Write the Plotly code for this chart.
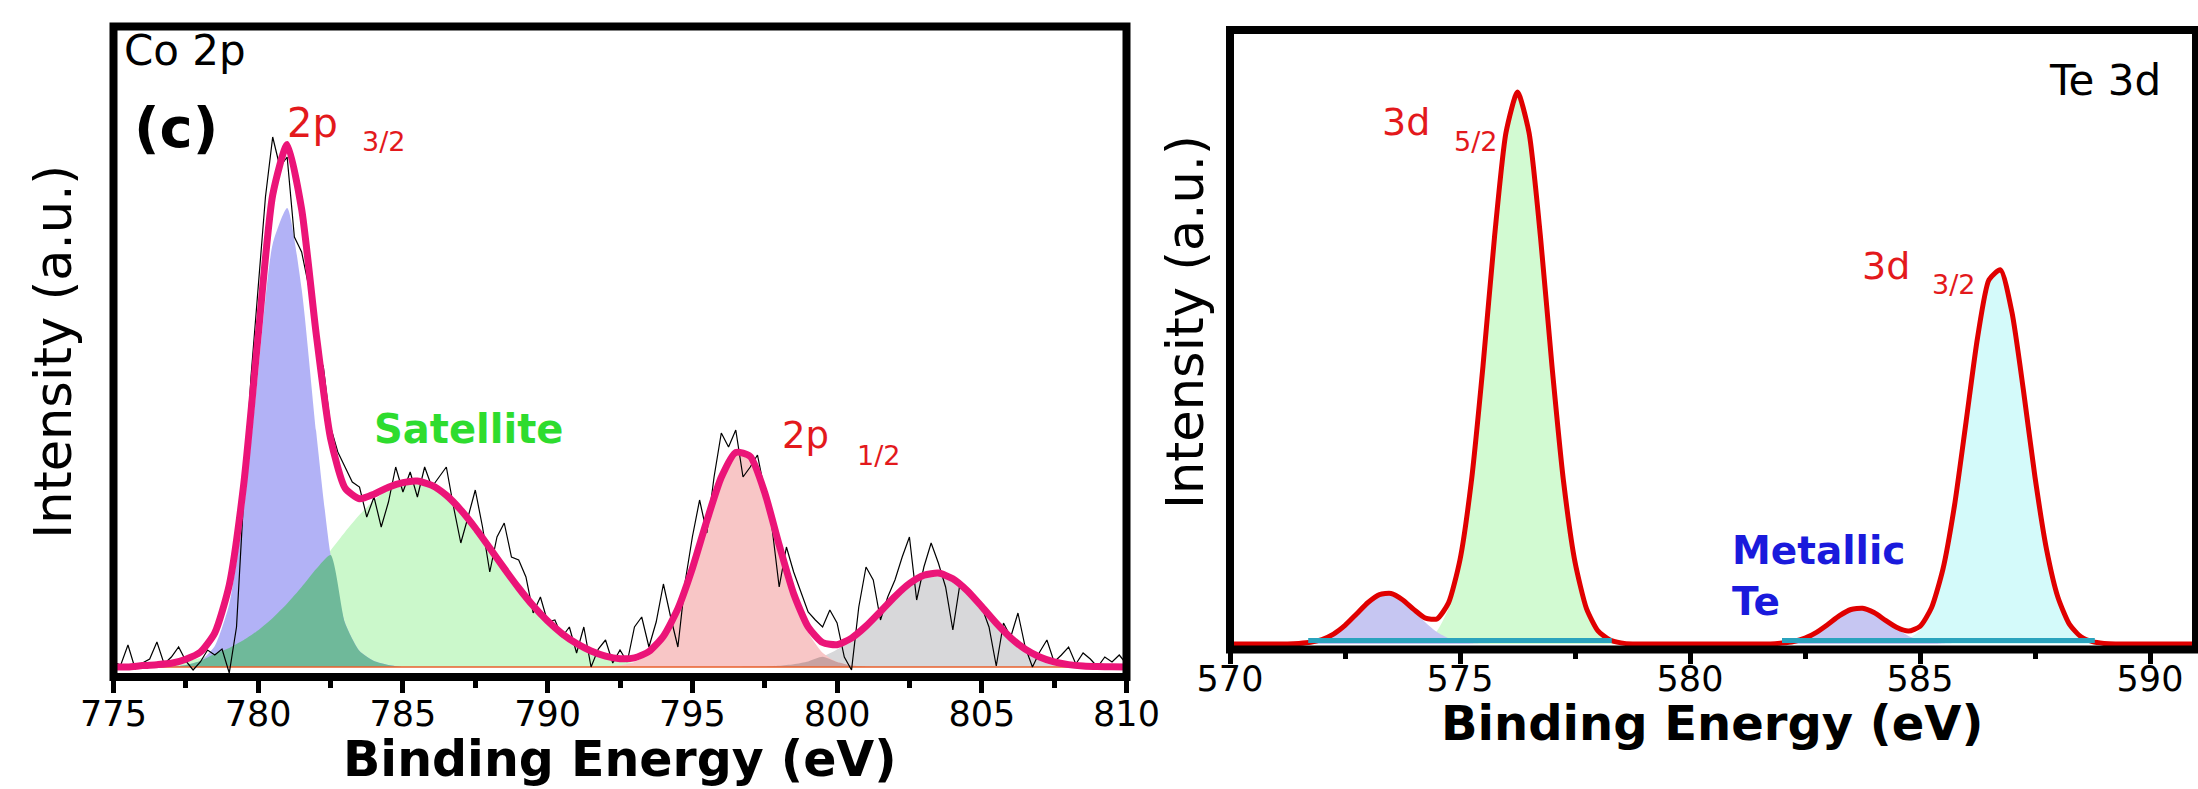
import numpy as np
import pandas as pd
import plotly.graph_objects as go

W, H = 2198, 789

# ------------------------------------------------------------------
# Co 2p panel (binding energy in eV, intensity in a.u.)
# fitted components, sampled every 0.5 eV from their start energy
# ------------------------------------------------------------------
co_step = 0.5
co_2p32_start = 777.5
co_2p32 = [2, 6, 21, 63, 156, 295, 423, 459, 378, 236, 112, 44, 16, 6, 2, 0]
co_sat_start = 776.0
co_sat = [1.4, 2.3, 3.7, 5.8, 8.9, 13.2, 19.1, 26.9, 36.8, 49.0,
          63.4, 79.9, 97.9, 116.6, 135.0, 152.2, 166.8, 177.8, 184.4, 185.9,
          181.6, 171.7, 157.0, 139.0, 119.0, 98.6, 79.0, 61.2, 45.9, 33.3,
          23.4, 15.9, 10.4, 6.6, 4.1, 2.4, 1.4, 0.8, 0.4]
co_2p12_start = 791.0
co_2p12 = [0, 0.1, 0.5, 1.7, 5.1, 13.1, 29.4, 57.5, 98.2, 146.2, 189.7, 214.6,
           210.3, 173.8, 120.7, 70.5, 34.5, 14.3, 4.9, 1.4, 0.3, 0, 0]
co_sat2_start = 797.0
co_sat2 = [0.2, 0.6, 1.3, 2.8, 5.6, 10.2, 17.4, 27.5, 40.5, 55.5, 70.6, 83.5,
           91.8, 93.9, 88.3, 76.3, 60.4, 43.8, 29.2, 17.8, 10.0, 5.1, 2.4, 1.0,
           0.4, 0.2, 0]

# measured (raw) spectrum, every 0.25 eV from 775 to 810
co_raw_start, co_raw_step = 775.0, 0.25
co_raw = [5, 2, 22, -2, 4, 8, 25, 3, 10, 20,
          6, -3, 5, 17, 12, 18, -6, 40, 170, 290,
          380, 470, 530, 500, 510, 430, 415, 380, 320, 300,
          240, 215, 200, 185, 180, 150, 170, 140, 165, 200,
          175, 195, 170, 200, 180, 190, 200, 160, 124, 150,
          177, 140, 95, 130, 144, 110, 107, 90, 54, 70,
          45, 47, 30, 40, 14, 40, 0, 18, 27, 4,
          17, 5, 40, 50, 20, 45, 83, 50, 20, 85,
          130, 167, 134, 190, 234, 220, 237, 190, 200, 212,
          177, 140, 80, 120, 95, 76, 55, 47, 40, 57,
          44, 10, -3, 60, 100, 87, 47, 70, 87, 110,
          130, 67, 100, 124, 104, 80, 37, 84, 74, 70,
          60, 40, 1, 44, 30, 54, 20, 0, 15, 27,
          5, 12, 20, 3, 14, 8, 0, 10, 5, 12, 3]
co_xrange = [775, 810]
co_ticks = [775, 780, 785, 790, 795, 800, 805, 810]

# ------------------------------------------------------------------
# Te 3d panel, components sampled every 0.25 eV
# ------------------------------------------------------------------
te_step = 0.25
te_met1_start = 571.5
te_met1 = [0.6, 1.8, 4.5, 9.9, 18.6, 30.0, 41.5, 49.4, 50.5, 44.3, 33.3, 21.6,
           12.0, 5.7, 2.3, 0.8, 0.2]
te_d52_start = 574.0
te_d52 = [1.1, 4.2, 13.1, 35.4, 82.0, 162.9, 277.8, 406.8, 511.4, 552, 511.4,
          406.8, 277.8, 162.9, 82.0, 35.4, 13.1, 4.2, 1.1]
te_met2_start = 582.0
te_met2 = [0.9, 2.5, 5.9, 11.7, 19.7, 28.3, 34.5, 35.8, 31.5, 23.6, 15.0, 8.1,
           3.7, 1.5, 0.5]
te_d32_start = 584.5
te_d32 = [1.4, 4.8, 13.9, 34.7, 74.6, 138.5, 221.7, 306.0, 364.3, 374.2, 331.4,
          253.2, 166.8, 94.8, 46.5, 19.6, 7.2, 2.3, 0.6]
te_bg_x = [571.7, 578.3, None, 582.0, 588.8]
te_bg_y = [3.5, 3.5, None, 3.5, 3.5]
te_xrange = [570, 591]
te_ticks = [570, 575, 580, 585, 590]


def full(grid, start, step, vals):
    s = pd.Series(0.0, index=np.round(grid, 3))
    idx = np.round(start + step * np.arange(len(vals)), 3)
    s.loc[idx] = vals
    return s.values


co_grid = np.arange(co_xrange[0], co_xrange[1] + 1e-9, co_step)
c_blue = full(co_grid, co_2p32_start, co_step, co_2p32)
c_green = full(co_grid, co_sat_start, co_step, co_sat)
c_pink = full(co_grid, co_2p12_start, co_step, co_2p12)
c_gray = full(co_grid, co_sat2_start, co_step, co_sat2)
c_env = c_blue + c_green + c_pink + c_gray
c_ov1 = np.minimum(c_blue, c_green)
c_ov2 = np.minimum(c_pink, c_gray)
co_raw_x = co_raw_start + co_raw_step * np.arange(len(co_raw))

te_grid = np.arange(te_xrange[0], te_xrange[1] + 1e-9, te_step)
t_m1 = full(te_grid, te_met1_start, te_step, te_met1)
t_52 = full(te_grid, te_d52_start, te_step, te_d52)
t_m2 = full(te_grid, te_met2_start, te_step, te_met2)
t_32 = full(te_grid, te_d32_start, te_step, te_d32)
t_env = t_m1 + t_52 + t_m2 + t_32

fig = go.Figure()


def fill(x, y, color, xa, ya):
    fig.add_trace(go.Scatter(x=x, y=y, mode="lines", fill="tozeroy",
                             fillcolor=color, line=dict(width=0, shape="spline", smoothing=0.6),
                             xaxis=xa, yaxis=ya, hoverinfo="skip"))


# Co 2p
fill(co_grid, c_green, "#cbf8cb", "x", "y")
fill(co_grid, c_blue, "#b2b2f6", "x", "y")
fill(co_grid, c_ov1, "#6fb99a", "x", "y")
fill(co_grid, c_gray, "#d8d8da", "x", "y")
fill(co_grid, c_pink, "#f8c6c6", "x", "y")
fill(co_grid, c_ov2, "#c8a2a2", "x", "y")
fig.add_trace(go.Scatter(x=co_xrange, y=[0, 0], mode="lines",
                         line=dict(color="#e8602c", width=1.5), xaxis="x", yaxis="y"))
fig.add_trace(go.Scatter(x=co_raw_x, y=co_raw, mode="lines",
                         line=dict(color="black", width=1.2), xaxis="x", yaxis="y"))
fig.add_trace(go.Scatter(x=co_grid, y=c_env, mode="lines",
                         line=dict(color="#eb1478", width=7, shape="spline", smoothing=0.6),
                         xaxis="x", yaxis="y"))

# Te 3d
fill(te_grid, t_52, "#d2fad2", "x2", "y2")
fill(te_grid, t_32, "#d4fafa", "x2", "y2")
fill(te_grid, t_m1, "#c6c6f2", "x2", "y2")
fill(te_grid, t_m2, "#c6c6f2", "x2", "y2")
fig.add_trace(go.Scatter(x=te_grid, y=t_env, mode="lines",
                         line=dict(color="#e00000", width=5, shape="spline", smoothing=0.6),
                         xaxis="x2", yaxis="y2"))
fig.add_trace(go.Scatter(x=te_bg_x, y=te_bg_y, mode="lines",
                         line=dict(color="#2aa3bd", width=5), xaxis="x2", yaxis="y2"))


def px_x(a, b):
    return [a / W, b / W]


def px_y(top, bottom):
    return [(H - bottom) / H, (H - top) / H]


tickfont = dict(family="DejaVu Sans", size=35, color="black")
minor_l = dict(ticks="outside", dtick=2.5, ticklen=10, tickwidth=5, tickcolor="black", showgrid=False)
minor_r = dict(ticks="outside", dtick=2.5, ticklen=8.5, tickwidth=5, tickcolor="black", showgrid=False)

fig.update_layout(
    width=W, height=H, margin=dict(l=0, r=0, t=0, b=0, autoexpand=False),
    paper_bgcolor="white", plot_bgcolor="white", showlegend=False,
    xaxis=dict(domain=px_x(113.5, 1126.5), range=co_xrange, anchor="y", automargin=False,
               tickmode="array", tickvals=co_ticks, ticks="outside", ticklen=15,
               tickwidth=5, tickcolor="black", tickfont=tickfont, minor=minor_l,
               ticklabelstandoff=-9,
               showgrid=False, zeroline=False, showline=False),
    yaxis=dict(domain=px_y(26.5, 677), range=[-10, 640.5], anchor="x", automargin=False,
               showticklabels=False, ticks="", showgrid=False, zeroline=False, showline=False,
               title=dict(text="Intensity (a.u.)", standoff=24,
                          font=dict(family="DejaVu Sans", size=51, color="black"))),
    xaxis2=dict(domain=px_x(1230, 2196), range=te_xrange, anchor="y2", automargin=False,
                tickmode="array", tickvals=te_ticks, ticks="outside", ticklen=13.5,
                tickwidth=5, tickcolor="black", tickfont=tickfont, minor=minor_r,
                ticklabelstandoff=-15,
                showgrid=False, zeroline=False, showline=False),
    yaxis2=dict(domain=px_y(30, 649.5), range=[-5.5, 614], anchor="x2", automargin=False,
                showticklabels=False, ticks="", showgrid=False, zeroline=False, showline=False),
)

# axis titles placed as paper annotations (positions of the reference)
fig.add_annotation(text="Binding Energy (eV)", x=620 / W, y=(H - 759) / H, xref="paper", yref="paper",
                   showarrow=False, xanchor="center", yanchor="middle",
                   font=dict(family="DejaVu Sans", size=49, color="black", weight="bold"))
fig.add_annotation(text="Binding Energy (eV)", x=1712 / W, y=(H - 723) / H, xref="paper", yref="paper",
                   showarrow=False, xanchor="center", yanchor="middle",
                   font=dict(family="DejaVu Sans", size=48, color="black", weight="bold"))
fig.add_annotation(text="Intensity (a.u.)", x=1185 / W, y=(H - 322) / H, xref="paper", yref="paper",
                   textangle=-90, showarrow=False, xanchor="center", yanchor="middle",
                   font=dict(family="DejaVu Sans", size=51, color="black"))

# frames
for xr, yr in (("x domain", "y domain"), ("x2 domain", "y2 domain")):
    fig.add_shape(type="rect", xref=xr, yref=yr, x0=0, x1=1, y0=0, y1=1,
                  line=dict(color="black", width=8), layer="above")

red = "#e3191c"


def ann(text, x, y, xa, ya, size, color, bold=False, xanchor="left"):
    f = dict(family="DejaVu Sans", size=size, color=color)
    if bold:
        f["weight"] = "bold"
    fig.add_annotation(text=text, x=x, y=y, xref=xa, yref=ya, showarrow=False,
                       xanchor=xanchor, yanchor="middle", align="left", font=f)


# Co 2p labels
ann("Co 2p", 775.29, 616.5, "x", "y", 42, "black")
ann("(c)", 775.64, 539.5, "x", "y", 56, "black", bold=True)
ann("2p", 780.93, 544.5, "x", "y", 40, red)
ann("3/2", 783.52, 526, "x", "y", 27, red)
ann("Satellite", 783.93, 238.5, "x", "y", 40, "#2edc2e", bold=True)
ann("2p", 798.03, 232, "x", "y", 37, red)
ann("1/2", 800.62, 212, "x", "y", 27, red)

# Te 3d labels
ann("Te 3d", 590.28, 564, "x2", "y2", 42, "black", xanchor="right")
ann("3d", 573.26, 522, "x2", "y2", 38, red)
ann("5/2", 574.83, 502.5, "x2", "y2", 27, red)
ann("3d", 583.70, 378.5, "x2", "y2", 38, red)
ann("3/2", 585.22, 360, "x2", "y2", 27, red)
ann("Metallic<br>Te", 580.87, 68, "x2", "y2", 39, "#1a1adc", bold=True)

fig.write_html("out.html")
